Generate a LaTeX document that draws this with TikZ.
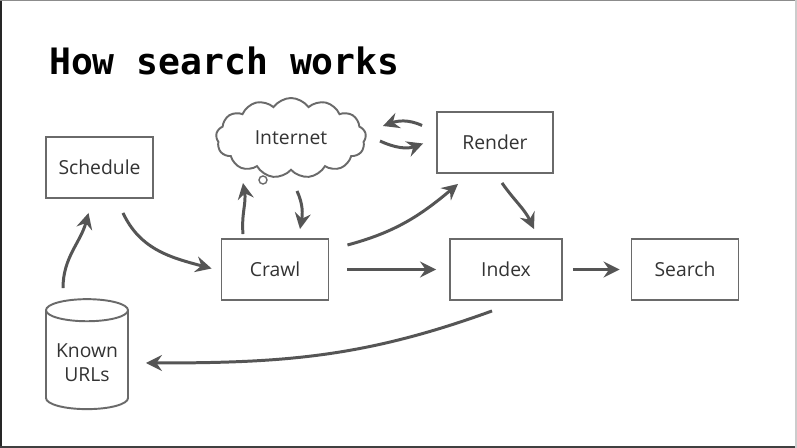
\documentclass[tikz,border=0pt]{standalone}
\usepackage{fontspec}
\setsansfont{Open Sans}
\newfontfamily\titlefont{DejaVu Sans Mono}
\usetikzlibrary{shapes.geometric,shapes.symbols,arrows.meta,calc}

\definecolor{boxgray}{HTML}{6A6A6A}
\definecolor{textgray}{HTML}{333333}
\definecolor{arrowgray}{HTML}{555555}
\newcommand\labelfont{\sffamily\fontsize{11}{13.5}\selectfont}

\tikzset{
  box/.style={draw=boxgray, line width=1.1pt, minimum width=2.14cm,
    minimum height=1.22cm, font=\labelfont, text=textgray},
  flow/.style={draw=arrowgray, line width=1.7pt,
    -{Stealth[length=3.2mm,width=3.2mm,inset=1.1mm]}},
}

\begin{document}
\begin{tikzpicture}[x=0.02cm, y=-0.02cm]
\useasboundingbox (0,0) rectangle (797,448);
% frame of the slide
\fill[white] (0,0) rectangle (797,448);
\draw[black!85, line width=1.2pt] (1,0) -- (1,448);
\draw[black!75, line width=1.2pt] (0,447) -- (797,447);
\draw[black!45, line width=0.6pt] (0,0.5) -- (797,0.5);
\draw[black!20, line width=0.6pt] (796,0) -- (796,448);

\node[anchor=base west, text=black, font=\titlefont\bfseries\fontsize{20.7}{24}\selectfont]
  (title) at (43,75) {How search works};

\node[box] (sched) at (99.5,167.5) {Schedule};
\node[box, minimum width=2.32cm] (render) at (495,142.5) {Render};
\node[box] (crawl) at (275,269.5) {Crawl};
\node[box, minimum width=2.24cm] (index) at (506,269.5) {Index};
\node[box] (search) at (685,269.5) {Search};

\node[cloud, draw=boxgray, line width=1.1pt, cloud puffs=13, cloud puff arc=110,
  aspect=2, minimum width=3.0cm, minimum height=1.6cm, inner sep=0pt,
  font=\labelfont, text=textgray] (net) at (291,138) {Internet};
\node[circle, draw=boxgray, line width=0.8pt, minimum size=0.16cm, inner sep=0pt]
  (bubble) at (263,180) {};

\node[cylinder, shape border rotate=90, draw=boxgray, line width=1.1pt,
  aspect=0.3, minimum width=1.64cm, minimum height=2.2cm, align=center,
  font=\labelfont, text=textgray] (kurls) at (87,363) {Known\\URLs};

% connectors
\draw[flow] ($(kurls.north)+(-24,-10)$) to[out=90,in=-105] ($(sched.south)+(-11,14)$);
\draw[flow] ($(sched.south)+(23.5,14)$) to[out=-65,in=165] ($(crawl.west)+(-9,-1)$);
\draw[flow] ($(crawl.north)+(-32,-4)$) to[out=95,in=-80] ($(net.center)+(-48,45)$);
\draw[flow] ($(net.center)+(6,53)$) to[out=-65,in=80] ($(crawl.north)+(25,-9)$);
\draw[flow] ($(render.west)+(-14,-17)$) to[out=155,in=20] ($(net.center)+(92,-12)$);
\draw[flow] ($(net.center)+(89,3)$) to[out=-25,in=200] ($(render.west)+(-13,1)$);
\draw[flow] ($(crawl.east)+(18,-24.5)$) to[out=15,in=-140] ($(render.south)+(-37,10)$);
\draw[flow] ($(render.south)+(7,9)$) to[out=-55,in=115] ($(index.north)+(28,-9)$);
\draw[flow] ($(crawl.east)+(18,0)$) -- ($(index.west)+(-13,0)$);
\draw[flow] ($(index.east)+(10,0)$) -- ($(search.west)+(-11,0)$);
\draw[flow] ($(index.south)+(-14,10)$) to[out=200,in=0] ($(kurls.east)+(17,0)$);
\end{tikzpicture}
\end{document}
